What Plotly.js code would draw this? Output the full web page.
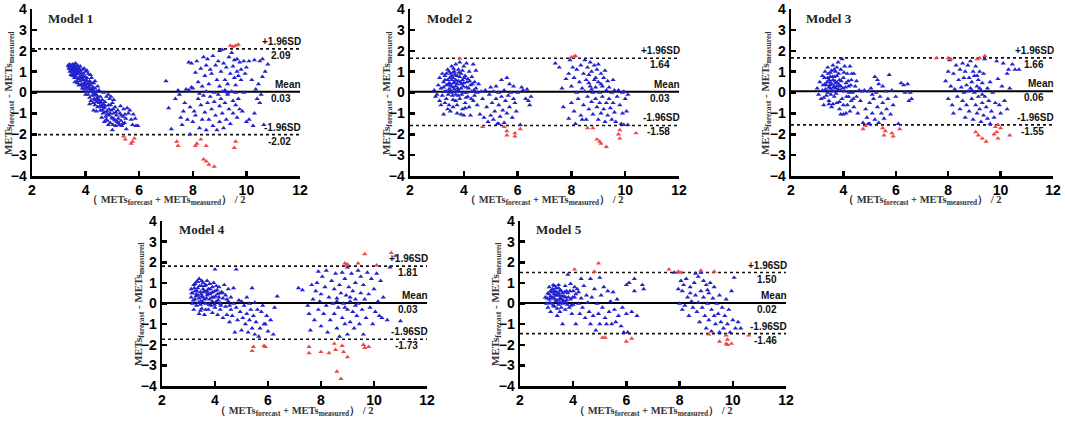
<!DOCTYPE html>
<html><head><meta charset="utf-8">
<script src="https://cdn.plot.ly/plotly-3.0.1.min.js"></script>
<style>html,body{margin:0;padding:0;background:#fff}#chart{width:1065px;height:424px}</style>
</head><body><div id="chart"></div>
<script>
// ---- summary statistics ----
const modelNames = ["Model 1","Model 2","Model 3","Model 4","Model 5"];
const meanDiff = [0.03,0.03,0.06,0.03,0.02];
const upperLoA = [2.09,1.64,1.66,1.81,1.50];
const lowerLoA = [-2.02,-1.58,-1.55,-1.73,-1.46];
const xTicks = [2,4,6,8,10,12];
const yTicks = [-4,-3,-2,-1,0,1,2,3,4];

// ---- Model 1 points [mean, difference] ----
const model1Blue = [
[3.35,1.3],[3.38,1.15],[3.4,1.35],[3.42,1.22],[3.45,1.05],[3.47,1.3],[3.5,1.15],[3.5,0.95],[3.52,1.35],[3.55,1.22],[3.55,1.0],[3.58,0.85],[3.6,1.3],[3.6,1.1],[3.62,0.95],[3.65,1.2],[3.65,0.75],[3.68,1.05],[3.7,0.88],[3.7,1.3],[3.72,0.65],[3.75,1.15],[3.75,0.95],[3.78,0.75],[3.8,1.25],[3.8,0.55],[3.82,1.0],[3.85,0.8],[3.85,0.4],[3.88,1.1],[3.9,0.62],[3.9,0.3],[3.92,0.9],[3.95,0.45],[3.95,0.15],[3.98,0.75],[4.0,1.0],[4.0,0.55],[4.02,0.25],[4.05,0.05],[4.05,0.7],[4.08,0.4],[4.1,0.9],[4.1,-0.1],[4.12,0.2],[4.15,0.55],[4.15,-0.25],[4.18,0.05],[4.2,0.35],[4.2,-0.4],[4.22,0.7],[4.25,-0.15],[4.25,0.15],[4.28,-0.5],[4.3,0.45],[4.3,0.0],[4.32,-0.3],[4.35,-0.6],[4.35,0.2],[4.38,-0.1],[4.4,-0.45],[4.42,0.05],[4.45,-0.7],[4.45,-0.25],[4.5,-0.5],[4.5,0.1],[4.55,-0.85],[4.55,-0.2],[4.6,-0.6],[4.62,-0.35],[4.65,-1.0],[4.68,0.0],[4.7,-0.75],[4.72,-0.45],[4.75,-1.15],[4.78,-0.2],[4.8,-0.9],[4.82,-1.35],[4.85,-0.6],[4.88,-1.1],[4.9,-0.3],[4.92,-1.45],[4.95,-0.85],[4.98,-1.2],[5.0,-0.5],[5.02,-1.55],[5.05,-1.0],[5.08,-1.3],[5.1,-0.7],[5.12,-1.6],[5.15,-1.1],[5.18,-1.4],[5.2,-0.85],[5.22,-1.25],[5.25,-1.55],[5.28,-1.0],[5.3,-0.65],[5.32,-1.35],[5.35,-1.6],[5.4,-1.15],[5.42,-0.8],[5.45,-1.45],[5.5,-1.25],[5.52,-1.75],[5.55,-0.75],[5.6,-1.0],[5.65,-0.85],[5.7,-1.3],[5.75,-1.55],[5.78,-1.05],[5.85,-1.25],[5.88,-1.6],[5.95,-1.6],[4.85,-0.1],[4.95,-0.2],[5.05,-0.35],[3.45,0.85],[3.58,0.7],[3.68,0.55],[3.75,0.35],[3.62,1.4],[3.52,0.8],[3.88,0.2],[4.0,-0.1],[4.15,-0.55],[4.3,-0.85],[4.4,-0.9],[4.6,-1.2],[4.7,-1.4],[4.85,-1.55],[5.0,-1.8],[3.95,1.15],[4.05,1.05],[4.18,0.85],[4.35,0.55],[4.45,0.3],[3.42,1.0],[3.55,0.9],[3.66,1.1],[3.72,1.0],[3.82,0.7],[3.92,0.6],[4.02,0.4],[4.12,0.3],[4.22,0.1],[4.32,-0.1],[4.42,-0.3],[4.52,-0.4],[4.62,-0.7],[4.72,-0.95],[4.82,-1.05],[4.92,-1.0],[5.02,-1.25],[5.12,-1.35],
[3.37,1.25],[3.43,1.12],[3.48,1.2],[3.53,1.08],[3.57,1.3],[3.63,1.15],[3.67,0.92],[3.73,1.2],[3.77,1.05],[3.83,0.9],[3.87,0.6],[3.93,0.75],[3.97,0.35],[4.03,0.6],[4.07,0.2],[4.13,0.45],[4.17,0.15],[4.23,0.45],[4.27,0.25],[4.33,0.05],[4.37,-0.35],[4.43,-0.15],[4.47,-0.45],[4.53,-0.65],[4.57,-0.45],[4.63,-0.85],[4.67,-0.55],[4.73,-0.65],[4.77,-1.3],[4.87,-0.8],[4.93,-0.6],[5.03,-0.8],[5.13,-0.95],[5.23,-1.45],[5.33,-1.1],[5.38,-1.5],[5.47,-1.05],[3.6,0.5],[3.7,0.45],[3.8,0.35],
[7.0,0.55],[7.1,-0.75],[7.2,-1.75],[7.35,-0.3],[7.45,0.1],[7.5,-0.1],[7.55,-1.2],[7.6,-1.55],[7.65,-0.9],[7.7,-0.5],[7.75,0.15],[7.8,-1.3],[7.85,1.45],[7.85,0.1],[7.9,-2.0],[7.95,1.4],[7.9,-0.7],[7.95,0.25],
[8.0,0.2],[8.0,-1.4],[8.05,-0.9],[8.1,0.95],[8.1,-1.1],[8.15,1.5],[8.2,0.5],[8.2,-0.3],[8.25,-1.7],[8.25,-0.05],[8.3,1.15],[8.3,-0.6],[8.35,0.3],[8.35,-1.3],[8.4,1.7],[8.4,-0.15],[8.45,0.8],[8.45,-0.95],[8.5,-1.8],[8.5,1.3],[8.5,0.05],[8.55,-0.5],[8.55,1.6],
[8.6,-1.3],[8.6,0.4],[8.65,1.1],[8.65,-0.2],[8.7,-0.8],[8.7,0.9],[8.75,1.75],[8.75,-1.6],[8.8,0.0],[8.8,-0.45],[8.85,1.3],[8.85,-1.1],[8.9,0.6],[8.9,-1.8],[8.95,-0.1],[8.95,1.5],[9.0,2.0],[9.0,0.3],[9.0,-0.65],[9.0,-1.4],
[9.05,1.0],[9.05,-0.3],[9.1,2.05],[9.1,0.05],[9.1,-1.0],[9.15,1.4],[9.15,-1.7],[9.2,0.6],[9.2,-0.5],[9.25,1.2],[9.25,-1.3],[9.3,0.4],[9.3,-0.1],[9.35,1.7],[9.35,-0.8],[9.4,0.9],[9.4,-1.5],[9.45,0.05],[9.45,1.9],[9.5,-0.4],[9.5,1.25],[9.5,-1.0],[9.3,0.0],[9.2,0.1],
[9.55,1.55],[9.55,0.7],[9.6,-0.6],[9.6,0.35],[9.65,1.0],[9.65,-1.2],[9.7,0.8],[9.7,-0.3],[9.75,1.45],[9.75,-0.8],[9.8,0.6],[9.8,1.1],[9.85,-0.9],[9.9,1.5],[9.9,0.0],[9.95,0.9],[10.0,1.2],[10.0,-1.4],[9.6,0.0],[9.65,1.6],
[10.1,1.5],[10.1,-1.3],[10.2,0.6],[10.25,-1.6],[10.3,1.55],[10.35,0.15],[10.4,-0.3],[10.45,0.4],[10.5,1.5],[10.55,-0.1],[10.6,1.6],[10.65,-1.55],[10.7,1.0],[10.6,0.75],[10.8,1.35],[10.5,-0.5],[10.3,-1.0]
];
const model1Red = [
[9.4,2.25],[9.5,2.2],[9.6,2.25],[9.7,2.3],[7.4,-2.35],[7.45,-2.55],[8.1,-2.55],[8.15,-2.45],[8.3,-2.25],[8.5,-2.55],[8.4,-3.2],[8.5,-3.3],[8.6,-3.45],[8.8,-3.55],[9.6,-2.35],[9.55,-2.65],[5.42,-2.1],[5.48,-2.25],[5.7,-2.45],[5.75,-2.35],[5.82,-2.2]
];

// ---- Model 2 ----
const model2Blue = [
[2.9,0.1],[2.95,-0.2],[3.0,-0.1],[3.05,0.35],[3.1,-0.4],[3.1,0.7],[3.15,0.2],[3.2,0.9],[3.2,-0.15],[3.25,0.5],[3.25,-1.05],[3.3,0.05],[3.3,0.8],[3.35,-0.3],[3.35,0.35],[3.4,1.1],[3.4,0.6],[3.45,-0.6],[3.45,0.15],[3.5,0.9],[3.5,0.4],[3.5,-0.9],[3.55,1.25],[3.55,0.0],[3.6,0.7],[3.6,-0.35],[3.6,0.25],[3.65,1.0],[3.65,0.5],[3.7,-0.1],[3.7,1.35],[3.7,0.3],[3.75,0.8],[3.75,-0.6],[3.8,0.1],[3.8,1.1],[3.8,0.55],[3.85,1.45],[3.85,-0.3],[3.9,0.9],[3.9,0.2],[3.95,0.6],[3.95,-0.8],[4.0,1.25],[4.0,0.0],[4.0,0.45],[4.05,-0.5],[4.05,0.8],[4.1,1.4],[4.1,0.25],[4.15,-0.2],[4.15,0.65],[4.2,1.0],[4.2,-0.7],[4.25,0.35],[4.25,-1.1],[4.3,0.05],[4.3,0.75],[4.35,1.35],[4.35,-0.4],[4.4,0.5],[4.4,-0.15],[4.45,0.2],[4.45,1.05],[4.5,-0.6],[4.5,0.0],[4.55,0.4],[4.6,-1.05],[3.3,-0.5],[3.6,-0.7],[3.9,-1.05],[4.0,-1.1],[3.75,-1.0],[3.15,-0.6],[3.4,-0.8],[3.45,0.45],[3.55,0.6],[3.65,0.15],[3.75,0.4],[3.85,0.75],[3.5,0.1],[3.7,0.6],[3.6,0.95],[3.9,0.4],[4.1,0.0],
[3.25,0.25],[3.3,0.6],[3.35,0.9],[3.4,0.35],[3.42,-0.1],[3.48,0.7],[3.52,0.3],[3.58,-0.15],[3.62,0.45],[3.68,0.85],[3.72,0.05],[3.78,0.2],[3.82,0.95],[3.88,0.5],[3.92,-0.1],[3.98,0.3],[4.02,0.7],[4.08,-0.25],[4.12,0.5],[4.18,0.2],[4.22,0.55],[4.28,-0.3],[4.32,0.4],[4.38,0.1],[3.55,0.8],[3.45,1.0],[3.62,1.15],[3.95,1.05],[4.05,-0.75],[3.7,-0.4],[3.35,0.05],[3.8,-0.15],
[4.65,0.05],[4.7,-0.3],[4.75,-1.2],[4.8,0.1],[4.85,-0.7],[4.9,-1.4],[4.95,-0.1],[5.0,0.25],[5.0,-1.1],[5.05,-0.5],[5.1,0.05],[5.1,-1.3],[5.15,-0.9],[5.2,0.3],[5.2,-0.3],[5.25,-1.5],[5.3,-0.6],[5.3,0.0],[5.35,-1.15],[5.4,0.6],[5.4,-0.2],[5.45,-0.85],[5.5,-1.45],[5.5,0.1],[5.55,-0.4],[5.6,0.7],[5.6,-1.0],[5.65,-0.15],[5.7,-0.7],[5.75,0.0],[5.8,-1.2],[5.85,0.3],[5.9,-0.5],[5.95,-0.9],[6.0,0.0],[6.1,-1.55],[6.15,0.25],[6.2,0.1],[6.3,-0.3],[6.35,0.15],[6.4,-0.4],[6.45,-0.6],[6.5,-0.2],[5.3,-1.5],[5.7,0.4],[5.85,-0.3],
[7.4,1.4],[7.55,1.2],[7.65,0.2],[7.7,-0.7],[7.8,0.65],[7.9,-1.25],[7.9,0.9],[7.95,1.55],[8.0,-0.5],[8.0,0.3],[8.05,1.2],[8.1,-0.9],[8.1,0.7],[8.15,-1.5],[8.2,0.0],[8.2,1.1],[8.25,-0.3],[8.3,0.5],[8.35,1.3],[8.35,-1.1],[8.4,0.2],[8.45,0.9],[8.45,-0.6],[8.5,1.55],[8.5,0.05],[8.55,-1.3],[8.55,0.6],[8.6,1.2],[8.6,-0.2],[8.65,0.85],[8.65,-0.8],[8.7,1.45],[8.7,0.3],[8.75,-0.45],[8.75,1.0],[8.8,0.0],[8.8,-1.05],[8.85,0.6],[8.85,1.3],[8.9,-0.3],[8.9,0.25],[8.95,1.1],[8.95,-0.7],[9.0,0.5],[9.0,-1.3],[9.0,1.35],[9.05,0.0],[9.05,-0.5],[9.1,0.9],[9.1,-1.0],[9.15,0.3],[9.15,-0.2],[9.2,0.7],[9.2,-0.8],[9.25,1.05],[9.25,-1.4],[9.3,0.1],[9.3,-0.5],[9.35,0.55],[9.35,-1.1],[9.4,-0.3],[9.4,0.25],[9.45,-0.75],[9.5,0.0],[9.5,-1.3],[9.55,-0.5],[9.6,0.1],[9.6,-0.95],[9.65,-1.4],[9.7,-0.2],[9.75,0.1],[9.8,-0.6],[9.85,-1.5],[9.9,0.0],[9.9,-1.0],[9.95,-1.55],[10.0,-0.3],[10.05,-0.9],[10.1,-1.55],[10.1,-0.1],[9.95,0.05],[8.65,0.45],[8.4,-1.3],[9.55,0.6],[8.9,0.7],[9.1,0.4],[8.75,0.15]
];
const model2Red = [
[3.85,1.62],[8.0,1.7],[8.1,1.72],[8.15,1.75],[4.7,-1.65],[5.5,-1.65],[5.6,-1.85],[5.6,-2.05],[5.9,-1.95],[5.9,-2.1],[6.1,-1.75],[8.6,-1.7],[8.8,-1.7],[8.95,-2.25],[9.05,-2.35],[9.1,-2.45],[9.3,-2.6],[9.8,-1.8],[9.75,-2.0],[9.8,-2.2],[10.4,-1.95]
];

// ---- Model 3 ----
const model3Blue = [
[3.0,0.2],[3.05,-0.1],[3.1,0.5],[3.15,-0.3],[3.2,0.8],[3.2,0.1],[3.25,-0.6],[3.3,1.0],[3.3,0.4],[3.35,-0.15],[3.4,0.7],[3.4,1.2],[3.45,-0.4],[3.45,0.25],[3.5,0.95],[3.5,0.5],[3.55,-0.7],[3.55,0.1],[3.6,1.3],[3.6,0.6],[3.65,0.3],[3.65,-0.2],[3.7,1.0],[3.7,0.45],[3.75,-0.5],[3.75,0.8],[3.8,1.45],[3.8,0.15],[3.85,0.6],[3.85,-0.8],[3.9,1.1],[3.9,0.3],[3.95,-0.3],[3.95,1.6],[4.0,0.7],[4.0,-0.6],[4.05,0.05],[4.05,1.25],[4.1,0.45],[4.1,-1.0],[4.15,0.9],[4.2,-0.2],[4.2,0.3],[4.25,1.25],[4.25,-0.9],[4.3,0.6],[4.3,-0.4],[4.35,0.0],[4.4,0.9],[4.4,-0.7],[4.45,0.3],[4.5,-0.2],[4.5,0.55],[4.55,-1.0],[4.6,0.1],[3.6,-0.55],[3.9,-1.05],[4.0,-1.05],[3.25,-0.25],[3.4,0.0],[3.5,0.2],[3.7,0.2],[3.6,0.05],[3.55,0.4],[3.75,0.3],[3.45,0.6],[3.65,0.75],[3.85,0.35],[3.5,0.75],[3.35,0.35],
[3.22,0.35],[3.28,0.7],[3.32,0.15],[3.38,0.5],[3.42,0.9],[3.48,0.35],[3.52,-0.1],[3.58,0.75],[3.62,0.25],[3.68,0.55],[3.72,-0.05],[3.78,0.45],[3.82,0.9],[3.88,0.1],[3.92,0.55],[3.98,0.2],[4.02,0.95],[4.08,0.25],[4.12,-0.2],[4.18,0.55],[4.22,0.0],[4.28,0.35],[4.32,0.9],[4.38,-0.3],[3.55,1.05],[3.65,1.1],[3.75,1.2],[3.45,-0.55],[3.85,-0.45],[4.15,-0.6],
[4.65,-0.4],[4.7,0.05],[4.75,-1.45],[4.8,0.1],[4.85,-0.8],[4.9,-1.2],[4.95,0.05],[5.0,-0.5],[5.0,-1.5],[5.05,0.2],[5.1,-1.0],[5.15,-0.3],[5.2,0.75],[5.2,-1.3],[5.25,0.0],[5.3,-0.7],[5.3,0.6],[5.35,-1.45],[5.4,-0.2],[5.45,-1.0],[5.5,0.3],[5.5,-0.5],[5.55,-1.25],[5.6,0.05],[5.65,-0.8],[5.7,-0.3],[5.75,0.85],[5.8,-1.05],[5.85,0.1],[5.9,-0.6],[6.0,-0.2],[6.1,-1.5],[6.2,0.45],[6.3,0.35],[6.35,0.0],[6.45,0.4],[6.5,-0.4],[6.55,0.0],[6.6,-0.3],[5.35,0.4],[4.95,-1.5],[5.1,-0.1],
[7.9,0.55],[8.0,1.0],[8.0,-0.3],[8.05,1.55],[8.1,0.3],[8.15,-0.6],[8.2,0.9],[8.2,-1.0],[8.25,0.15],[8.3,1.3],[8.35,-0.2],[8.4,0.6],[8.45,1.1],[8.45,-0.8],[8.5,0.25],[8.55,1.4],[8.55,-0.4],[8.6,0.7],[8.6,0.0],[8.65,1.0],[8.65,-1.2],[8.7,0.35],[8.7,-0.6],[8.75,1.3],[8.75,0.05],[8.8,0.7],[8.8,-0.9],[8.85,0.2],[8.85,1.5],[8.9,-0.3],[8.9,0.5],[8.95,1.0],[8.95,-1.3],[9.0,0.0],[9.0,0.8],[9.05,-0.6],[9.05,1.25],[9.1,0.3],[9.1,-1.0],[9.15,0.6],[9.15,-0.2],[9.2,1.0],[9.2,-0.8],[9.25,0.1],[9.25,-1.4],[9.3,0.45],[9.3,-0.5],[9.35,-1.1],[9.35,0.9],[9.4,-0.2],[9.4,1.6],[9.45,-0.7],[9.5,0.2],[9.5,-1.25],[9.55,-0.4],[9.6,0.5],[9.6,-1.5],[9.65,-0.9],[9.7,0.0],[9.75,-1.2],[9.8,-0.5],[9.85,1.5],[9.9,0.65],[9.95,-0.6],[10.0,-1.0],[10.05,0.3],[10.1,1.4],[10.15,-0.4],[10.25,0.9],[10.3,1.1],[10.35,0.2],[10.45,1.35],[10.55,1.1],[10.7,1.1],[10.25,-0.8],[9.2,0.2],[9.1,0.8],[8.9,0.1],[9.3,-0.1]
];
const model3Red = [
[7.55,1.65],[8.0,1.65],[8.1,1.6],[9.1,1.6],[9.2,1.65],[9.4,1.75],[4.75,-1.75],[4.85,-1.6],[5.5,-1.7],[5.6,-1.85],[5.55,-2.05],[5.9,-2.1],[5.85,-1.95],[6.15,-1.75],[9.05,-1.9],[9.15,-2.05],[9.3,-2.2],[9.45,-2.35],[9.8,-1.65],[9.9,-1.55],[10.0,-1.7],[9.85,-1.9],[9.9,-2.2],[10.35,-2.05],[9.75,-2.0]
];

// ---- Model 4 ----
const model4Blue = [
[3.1,0.7],[3.1,0.3],[3.15,0.5],[3.15,0.0],[3.2,0.9],[3.2,-0.3],[3.25,0.6],[3.25,0.2],[3.3,1.05],[3.3,-0.1],[3.35,0.4],[3.35,0.75],[3.4,-0.5],[3.4,1.2],[3.45,0.1],[3.45,0.55],[3.5,0.85],[3.5,-0.25],[3.55,0.3],[3.55,1.0],[3.6,0.6],[3.6,-0.55],[3.65,0.0],[3.65,0.9],[3.7,0.4],[3.7,1.1],[3.75,-0.3],[3.75,0.7],[3.8,0.2],[3.8,0.95],[3.85,-0.1],[3.85,0.5],[3.9,0.8],[3.9,-0.45],[3.95,0.3],[3.95,1.0],[4.0,1.65],[4.0,0.6],[4.0,-0.2],[4.05,0.1],[4.1,0.45],[4.1,-0.55],[4.15,0.8],[4.2,0.0],[4.2,-0.3],[4.25,0.55],[4.3,-0.7],[4.3,0.25],[4.35,0.9],[4.4,-0.15],[4.4,0.4],[4.45,-0.55],[4.5,0.1],[4.5,0.7],[4.55,-0.9],[4.6,-0.3],[4.6,0.3],[4.65,-0.6],[4.7,0.0],[4.7,0.75],[4.75,-1.4],[4.8,-0.2],[4.8,1.65],[4.85,-0.8],[4.9,0.15],[4.95,-0.4],[5.0,-1.3],[5.0,0.1],[5.05,-0.7],[5.1,-0.1],[5.15,-1.0],[5.2,0.3],[5.2,-0.5],[5.25,-1.4],[5.3,0.0],[5.3,-0.8],[5.35,-0.3],[5.4,-1.2],[5.4,0.75],[5.45,-0.6],[5.5,-1.5],[5.5,0.05],[5.55,-0.9],[5.6,-0.3],[5.65,-1.6],[5.7,-1.2],[5.75,-0.4],[5.8,-0.1],[5.9,-1.0],[5.95,-0.6],[6.0,-1.35],[6.1,-0.8],[6.2,-1.5],[6.25,-0.2],[6.35,0.35],[5.85,-1.0],[3.5,0.35],[3.6,0.2],[3.4,0.25],[3.7,0.6],[3.3,0.45],[3.8,0.45],[3.55,0.7],[3.9,0.1],[4.05,0.85],[4.15,0.3],[3.25,0.95],[3.45,-0.05],
[3.12,0.5],[3.18,0.15],[3.22,0.75],[3.28,0.35],[3.32,0.6],[3.38,0.05],[3.42,0.85],[3.48,0.45],[3.52,0.1],[3.58,0.55],[3.62,0.85],[3.68,0.25],[3.72,0.5],[3.78,-0.05],[3.82,0.7],[3.88,0.3],[3.92,0.55],[3.98,-0.05],[4.02,0.35],[4.08,0.65],[4.12,0.15],[4.18,0.5],[4.22,-0.1],[3.35,1.05],[3.5,1.1],[3.65,-0.3],[3.45,-0.35],[4.3,0.5],[4.45,0.2],[4.55,-0.1],
[7.15,0.75],[7.3,0.65],[7.5,-0.1],[7.55,-0.5],[7.6,-1.3],[7.65,0.9],[7.7,0.2],[7.75,-0.8],[7.8,0.6],[7.85,1.0],[7.9,-0.3],[7.9,1.55],[7.95,0.1],[8.0,-1.1],[8.0,0.45],[8.05,1.3],[8.1,-0.5],[8.15,0.8],[8.2,-0.1],[8.2,1.6],[8.25,-1.4],[8.3,0.3],[8.35,-0.8],[8.4,1.1],[8.45,0.0],[8.5,-0.5],[8.5,0.7],[8.55,1.45],[8.6,-1.2],[8.6,0.25],[8.65,-0.2],[8.7,0.9],[8.7,-1.6],[8.75,0.5],[8.8,-0.7],[8.8,1.5],[8.85,0.0],[8.9,-1.0],[8.9,1.2],[8.95,0.4],[9.0,-0.3],[9.0,-1.5],[9.05,0.8],[9.1,0.1],[9.1,-0.9],[9.15,1.45],[9.2,-0.4],[9.2,0.6],[9.25,-1.2],[9.3,0.2],[9.3,1.0],[9.35,-0.6],[9.4,1.6],[9.4,0.0],[9.45,-1.0],[9.5,0.5],[9.5,1.3],[9.55,-0.3],[9.6,0.9],[9.6,-1.5],[9.65,0.2],[9.7,-0.7],[9.75,1.5],[9.8,0.45],[9.85,-0.2],[9.9,1.2],[9.95,-1.0],[10.0,0.7],[10.05,-0.4],[10.1,1.45],[10.15,0.1],[10.2,-0.6],[10.25,1.1],[10.3,-0.7],[10.35,0.3],[10.5,-0.8],[10.6,1.75],[11.0,-0.85],[9.0,1.75],[8.6,0.1],[9.1,0.3],[8.9,-0.2],[9.3,-0.1]
];
const model4Red = [
[8.9,1.95],[8.95,1.85],[9.0,1.9],[9.4,1.95],[9.65,2.4],[10.1,1.85],[10.65,2.45],[10.8,2.3],[5.4,-2.3],[5.45,-2.1],[5.85,-2.05],[5.9,-2.1],[7.55,-2.1],[7.55,-2.4],[8.0,-2.35],[8.3,-2.4],[8.5,-1.95],[8.55,-2.25],[8.8,-2.05],[8.85,-2.35],[9.0,-2.6],[9.6,-2.0],[9.65,-2.15],[9.8,-2.1],[8.6,-3.3],[8.75,-3.65]
];

// ---- Model 5 ----
const model5Blue = [
[2.95,0.3],[3.0,0.0],[3.05,0.5],[3.05,-0.2],[3.1,0.8],[3.1,0.2],[3.15,-0.4],[3.2,0.55],[3.2,0.0],[3.25,0.9],[3.25,0.3],[3.3,-0.15],[3.3,0.6],[3.35,0.1],[3.4,-0.6],[3.4,0.4],[3.45,0.75],[3.45,-0.05],[3.5,0.25],[3.5,-0.4],[3.55,0.6],[3.6,0.0],[3.6,-1.0],[3.65,0.35],[3.7,0.85],[3.7,-0.3],[3.75,0.15],[3.8,1.4],[3.8,0.5],[3.85,-0.2],[3.9,0.95],[3.9,0.2],[3.95,-0.5],[4.0,0.6],[4.0,-0.05],[4.05,0.3],[4.1,-1.0],[4.15,0.7],[4.2,0.0],[4.25,-0.5],[4.3,1.2],[4.3,0.25],[4.35,-0.2],[4.4,0.85],[4.45,-0.7],[4.5,0.4],[4.55,0.05],[4.6,-0.4],[4.65,1.2],[4.65,-1.0],[4.7,0.3],[4.75,-0.6],[4.8,0.7],[4.85,-1.3],[4.9,0.0],[4.95,-0.5],[5.0,1.25],[5.0,-1.0],[5.05,0.4],[5.1,-0.2],[5.15,0.8],[5.2,-0.7],[5.25,-1.0],[5.3,0.6],[5.35,-0.4],[5.4,0.1],[5.45,-1.0],[5.5,0.55],[5.55,-0.3],[5.6,-0.9],[5.65,0.2],[5.7,-0.6],[5.8,-1.1],[5.85,-0.2],[5.9,-1.4],[6.0,0.9],[6.0,-0.5],[6.05,-1.4],[6.1,1.0],[6.2,-0.4],[6.3,1.2],[6.3,0.6],[6.4,-0.6],[6.6,0.9],[6.65,0.7],[3.35,0.4],[3.15,0.35],[3.55,0.2],[3.45,0.5],[3.25,-0.1],[3.6,0.5],[3.75,0.6],[3.35,0.75],[3.5,0.05],[3.65,0.1],
[3.02,0.25],[3.08,0.45],[3.12,0.05],[3.18,0.25],[3.22,0.7],[3.28,0.45],[3.32,0.2],[3.38,0.55],[3.42,0.15],[3.48,0.4],[3.52,0.65],[3.58,0.35],[3.62,0.15],[3.68,0.55],[3.72,0.3],[3.78,-0.05],[3.82,0.3],[3.88,0.6],[3.92,-0.1],[3.98,0.3],[3.15,0.6],[3.3,0.85],[3.45,0.9],[3.55,-0.2],[3.25,0.55],[4.05,0.8],[4.1,0.45],[4.2,0.55],[3.4,-0.25],[3.7,0.05],
[7.8,1.5],[7.95,0.7],[8.0,0.0],[8.05,1.1],[8.1,-0.3],[8.1,0.6],[8.15,0.9],[8.2,-0.1],[8.25,1.2],[8.3,0.3],[8.35,-0.6],[8.4,0.8],[8.45,0.1],[8.5,-0.2],[8.55,1.0],[8.6,0.4],[8.65,-0.4],[8.7,1.3],[8.7,0.05],[8.75,-0.9],[8.8,0.6],[8.85,-0.2],[8.9,1.1],[8.9,0.3],[8.95,-0.6],[9.0,0.9],[9.0,-1.2],[9.05,0.0],[9.1,0.5],[9.1,-0.8],[9.15,1.0],[9.2,-0.3],[9.2,-1.35],[9.25,0.25],[9.3,-0.6],[9.3,0.8],[9.35,-1.0],[9.4,0.0],[9.45,-0.5],[9.5,-1.4],[9.5,0.4],[9.55,-0.9],[9.6,-0.2],[9.65,-1.2],[9.7,-0.6],[9.75,0.2],[9.8,-1.0],[9.85,-0.3],[9.9,-1.4],[9.95,0.6],[10.0,-0.8],[10.05,1.25],[10.1,-1.2],[10.2,-0.9],[10.3,-1.2],[8.6,1.45],[8.8,1.5],[9.05,0.65],[8.4,0.5]
];
const model5Red = [
[4.05,1.65],[4.8,1.55],[4.95,1.95],[7.6,1.65],[7.95,1.55],[8.05,1.5],[8.8,1.6],[9.3,1.55],[5.1,-1.65],[5.2,-1.65],[6.0,-1.85],[6.2,-1.7],[9.1,-1.5],[9.5,-1.85],[9.75,-1.55],[9.8,-1.75],[9.75,-1.95],[9.8,-2.0],[9.95,-1.95],[10.6,-1.55]
];

const bluePts = [model1Blue, model2Blue, model3Blue, model4Blue, model5Blue];
const redPts = [model1Red, model2Red, model3Red, model4Red, model5Red];

// ---- layout geometry (pixel boxes of each panel) ----
const W = 1065, H = 424;
const boxes = [
  {l:32, r:300, t:9, b:176},
  {l:410, r:679, t:9, b:176},
  {l:791, r:1053, t:9, b:176},
  {l:162, r:427, t:221, b:386},
  {l:520, r:786, t:221, b:386}
];
const yTitlePos = [[9,93],[387,93],[766,93],[139,304],[496,304]];
const xTitleY = [200,200,200,411,411];
const modelLabelPos = [[46,18],[425,18],[804,18],[177,229],[534,229]];

const BLUE = '#2323cf', RED = '#f04646';
const traces = [];
const layout = {
  width: W, height: H, margin: {l:0, r:0, t:0, b:0},
  paper_bgcolor: '#fff', plot_bgcolor: '#fff', showlegend: false,
  annotations: []
};
const tickFont = {family: 'Liberation Sans, Arial, sans-serif', size: 14, color: '#000', weight: 'bold'};
const labFont = {family: 'Liberation Sans, Arial, sans-serif', size: 10, color: '#111', weight: 'bold'};
const serif = 'Liberation Serif, Times New Roman, serif';

for (let i = 0; i < 5; i++) {
  const n = i === 0 ? '' : String(i + 1);
  const xa = 'x' + n, ya = 'y' + n;
  const b = boxes[i];
  layout['xaxis' + n] = {
    domain: [b.l / W, b.r / W], range: [2, 12], anchor: ya,
    showline: true, linecolor: '#000', linewidth: 2.5, mirror: false,
    ticks: 'inside', ticklen: 5, tickwidth: 2.5, tickcolor: '#000',
    tickmode: 'array', tickvals: xTicks, tickfont: tickFont,
    showgrid: false, zeroline: false, fixedrange: true
  };
  layout['yaxis' + n] = {
    domain: [1 - b.b / H, 1 - b.t / H], range: [-4, 4], anchor: xa,
    showline: true, linecolor: '#000', linewidth: 2.5, mirror: false,
    ticks: 'inside', ticklen: 5, tickwidth: 2.5, tickcolor: '#000',
    tickmode: 'array', tickvals: yTicks, tickfont: tickFont,
    showgrid: false, zeroline: false, fixedrange: true
  };
  // reference lines
  traces.push({x: [2, 12], y: [meanDiff[i], meanDiff[i]], xaxis: xa, yaxis: ya, mode: 'lines',
    line: {color: '#000', width: 2}, hoverinfo: 'skip'});
  [upperLoA[i], lowerLoA[i]].forEach(v => traces.push({x: [2, 12], y: [v, v], xaxis: xa, yaxis: ya,
    mode: 'lines', line: {color: '#111', width: 1.6, dash: 'dot'}, hoverinfo: 'skip'}));
  // points
  traces.push({x: bluePts[i].map(p => p[0]), y: bluePts[i].map(p => p[1]), xaxis: xa, yaxis: ya,
    mode: 'markers', marker: {symbol: 'triangle-up', size: 4.6, color: BLUE, line: {width: 0}}});
  traces.push({x: redPts[i].map(p => p[0]), y: redPts[i].map(p => p[1]), xaxis: xa, yaxis: ya,
    mode: 'markers', marker: {symbol: 'triangle-up', size: 4.6, color: RED, line: {width: 0}}});

  const A = layout.annotations;
  // limit labels (anchored at x = 12, shifted right a little)
  const labs = [['+1.96SD', upperLoA[i]], ['Mean', meanDiff[i]], ['-1.96SD', lowerLoA[i]]];
  labs.forEach(([t, v]) => {
    A.push({xref: xa, yref: ya, x: 12, y: v, xanchor: 'right', yanchor: 'bottom', xshift: 3, yshift: 0,
      text: t, showarrow: false, font: labFont});
    A.push({xref: xa, yref: ya, x: 12, y: v, xanchor: 'right', yanchor: 'top', xshift: -7, yshift: 1,
      text: v.toFixed(2), showarrow: false, font: labFont});
  });
  // model label
  A.push({xref: 'paper', yref: 'paper', x: modelLabelPos[i][0] / W, y: 1 - modelLabelPos[i][1] / H,
    xanchor: 'left', yanchor: 'middle', text: modelNames[i], showarrow: false,
    font: {family: serif, size: 13, color: '#222', weight: 'bold'}});
  // y title
  A.push({xref: 'paper', yref: 'paper', x: yTitlePos[i][0] / W, y: 1 - yTitlePos[i][1] / H,
    xanchor: 'center', yanchor: 'middle', textangle: -90,
    text: 'METs<sub>forecast</sub> - METs<sub>measured</sub>', showarrow: false,
    font: {family: serif, size: 11, color: '#333', weight: 'bold'}});
  // x title
  A.push({xref: 'paper', yref: 'paper', x: (b.l + b.r) / 2 / W, y: 1 - xTitleY[i] / H,
    xanchor: 'center', yanchor: 'middle',
    text: '（ METs<sub>forecast</sub> + METs<sub>measured</sub>） / 2', showarrow: false,
    font: {family: serif, size: 10.5, color: '#333', weight: 'bold'}});
}

Plotly.newPlot('chart', traces, layout, {staticPlot: true, displayModeBar: false});
</script></body></html>
